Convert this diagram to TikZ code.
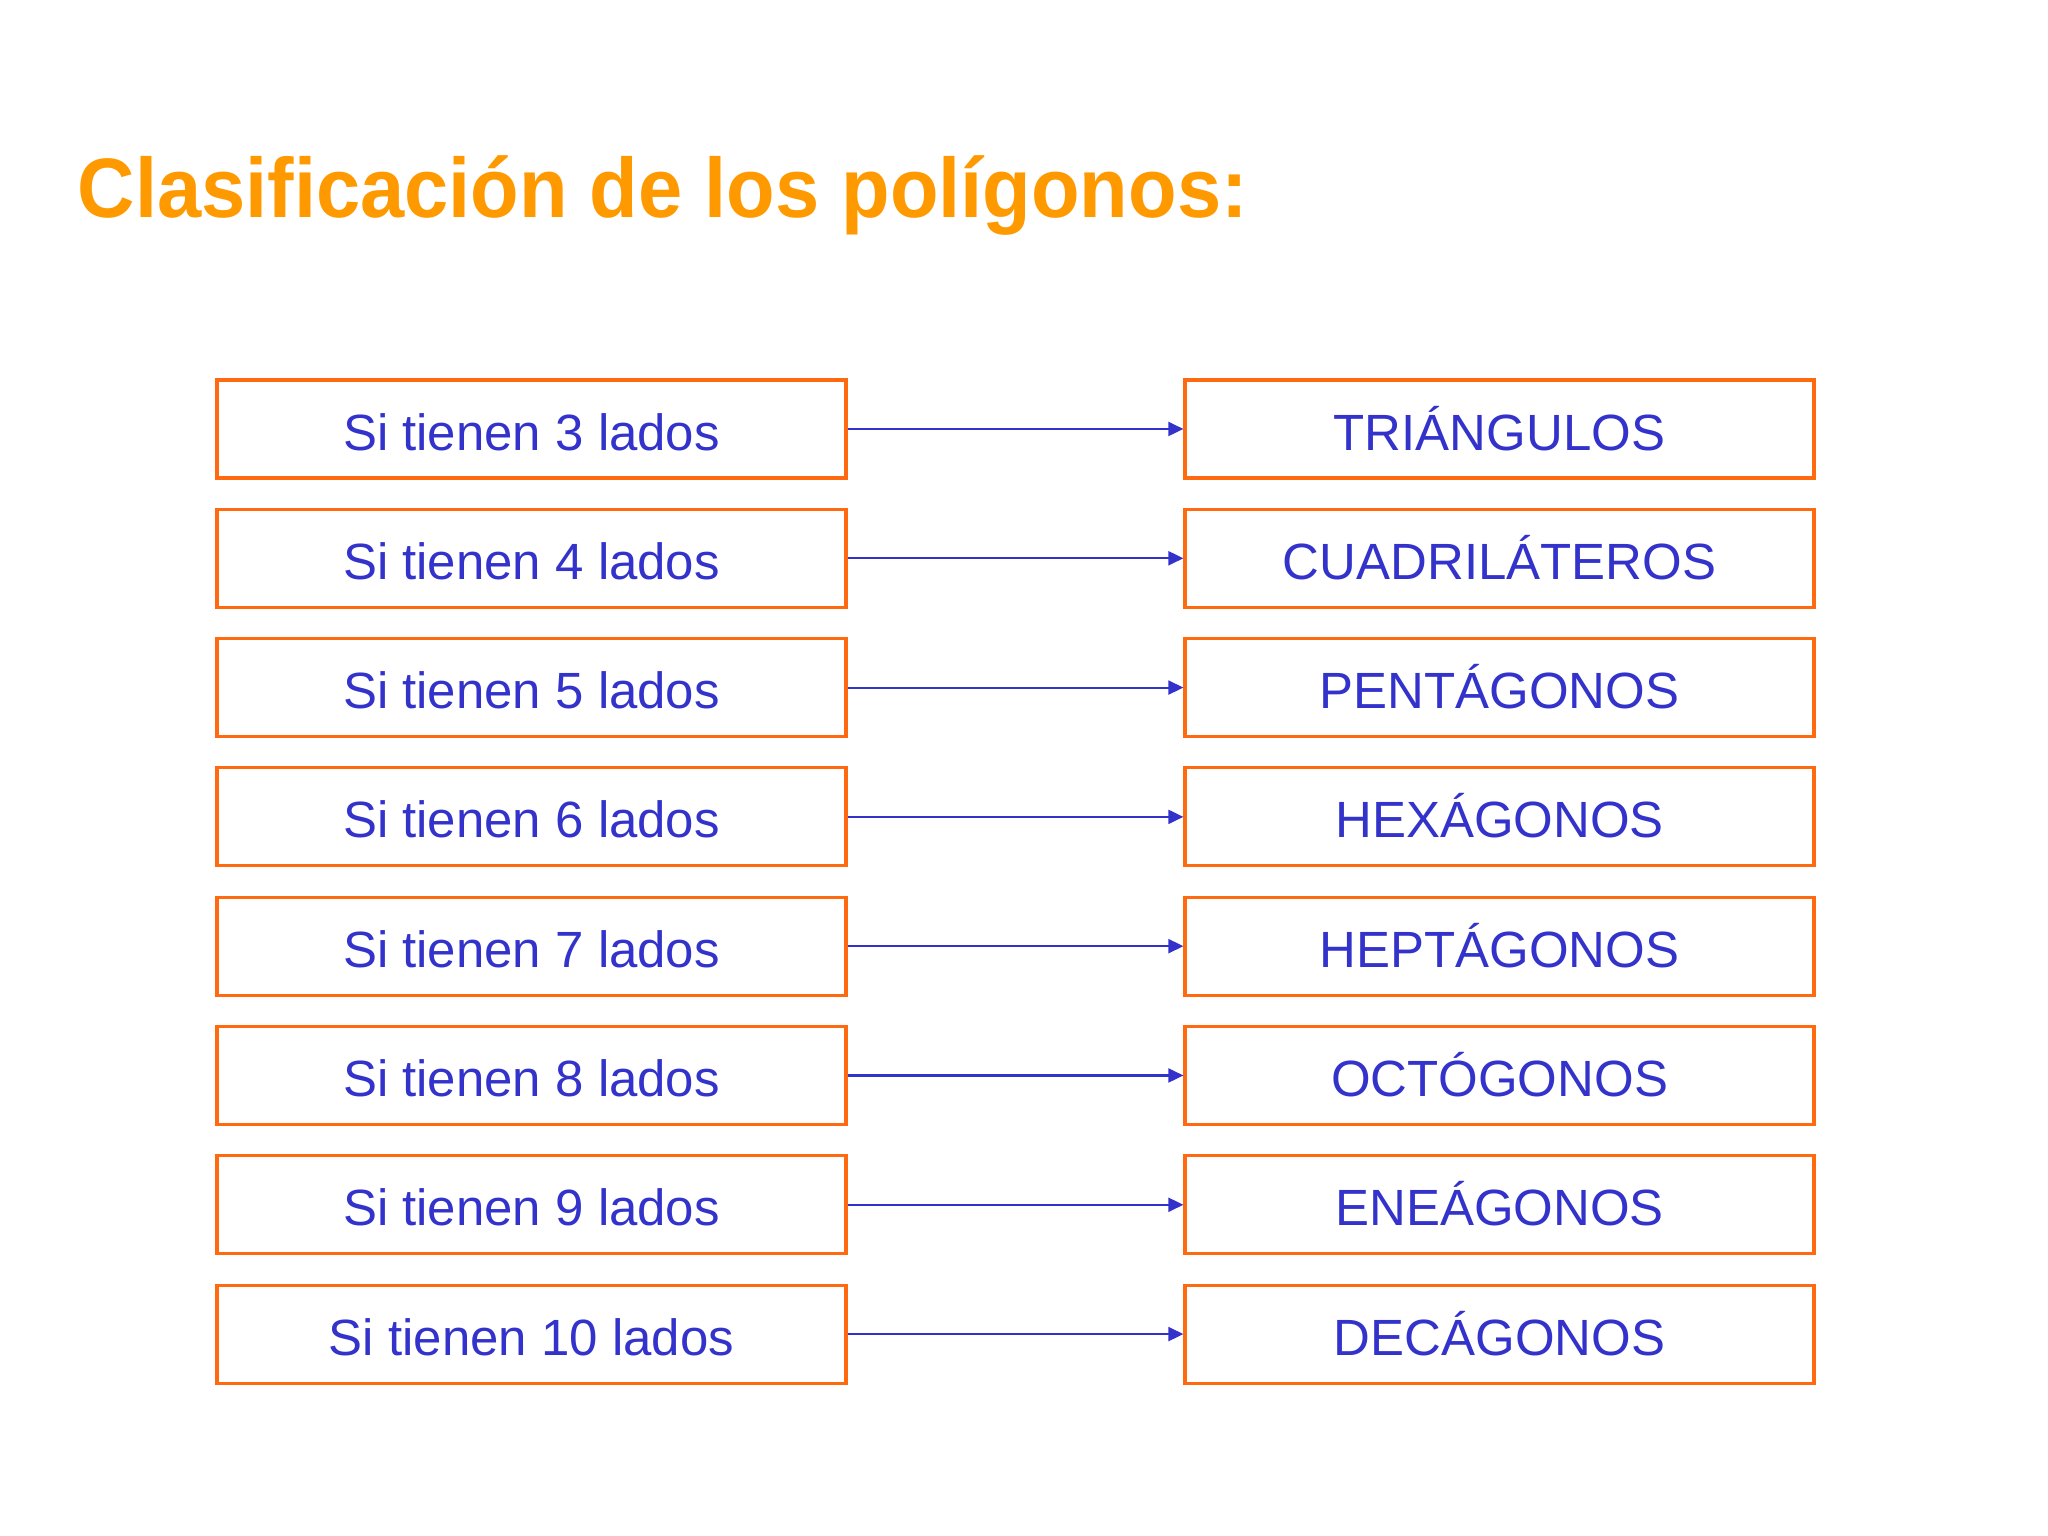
\documentclass[tikz,border=0pt]{standalone}
\usepackage{fontspec}
\setmainfont{Liberation Sans}
\usetikzlibrary{arrows.meta}
\definecolor{naranja}{HTML}{FF9900}
\definecolor{borde}{HTML}{FF6A10}
\definecolor{azul}{HTML}{3333CC}

\begin{document}
\begin{tikzpicture}
\tikzset{caja/.style={draw=borde, line width=0.9pt, minimum width=6.29cm, minimum height=0.98cm, text=azul, font=\fontsize{14.5}{17}\selectfont, inner sep=0pt, text height=12pt, text depth=0pt},
flecha/.style={draw=azul, line width=0.6pt, -{Triangle[length=4.3pt,width=4pt]}}}
\useasboundingbox (0, 0) rectangle (20.48, 15.36);
\node[anchor=base west, inner sep=0pt, xscale=0.942, transform shape, text=naranja, font=\fontsize{24}{28}\bfseries] (titulo) at (0.77, 13.18) {Clasificación de los polígonos:};
\node[caja] (L3) at (5.315, 11.07) {Si tienen 3 lados};
\node[caja] (L4) at (5.315, 9.777) {Si tienen 4 lados};
\node[caja] (L5) at (5.315, 8.484) {Si tienen 5 lados};
\node[caja] (L6) at (5.315, 7.191) {Si tienen 6 lados};
\node[caja] (L7) at (5.315, 5.898) {Si tienen 7 lados};
\node[caja] (L8) at (5.315, 4.605) {Si tienen 8 lados};
\node[caja] (L9) at (5.315, 3.312) {Si tienen 9 lados};
\node[caja] (L10) at (5.315, 2.019) {Si tienen 10 lados};
\node[caja] (P3) at (14.995, 11.07) {TRIÁNGULOS};
\node[caja] (P4) at (14.995, 9.777) {CUADRILÁTEROS};
\node[caja] (P5) at (14.995, 8.484) {PENTÁGONOS};
\node[caja] (P6) at (14.995, 7.191) {HEXÁGONOS};
\node[caja] (P7) at (14.995, 5.898) {HEPTÁGONOS};
\node[caja] (P8) at (14.995, 4.605) {OCTÓGONOS};
\node[caja] (P9) at (14.995, 3.312) {ENEÁGONOS};
\node[caja] (P10) at (14.995, 2.019) {DECÁGONOS};
\draw[flecha] (L3) -- (P3);
\draw[flecha] (L4) -- (P4);
\draw[flecha] (L5) -- (P5);
\draw[flecha] (L6) -- (P6);
\draw[flecha] (L7) -- (P7);
\draw[flecha] (L8) -- (P8);
\draw[flecha] (L9) -- (P9);
\draw[flecha] (L10) -- (P10);
\end{tikzpicture}
\end{document}
